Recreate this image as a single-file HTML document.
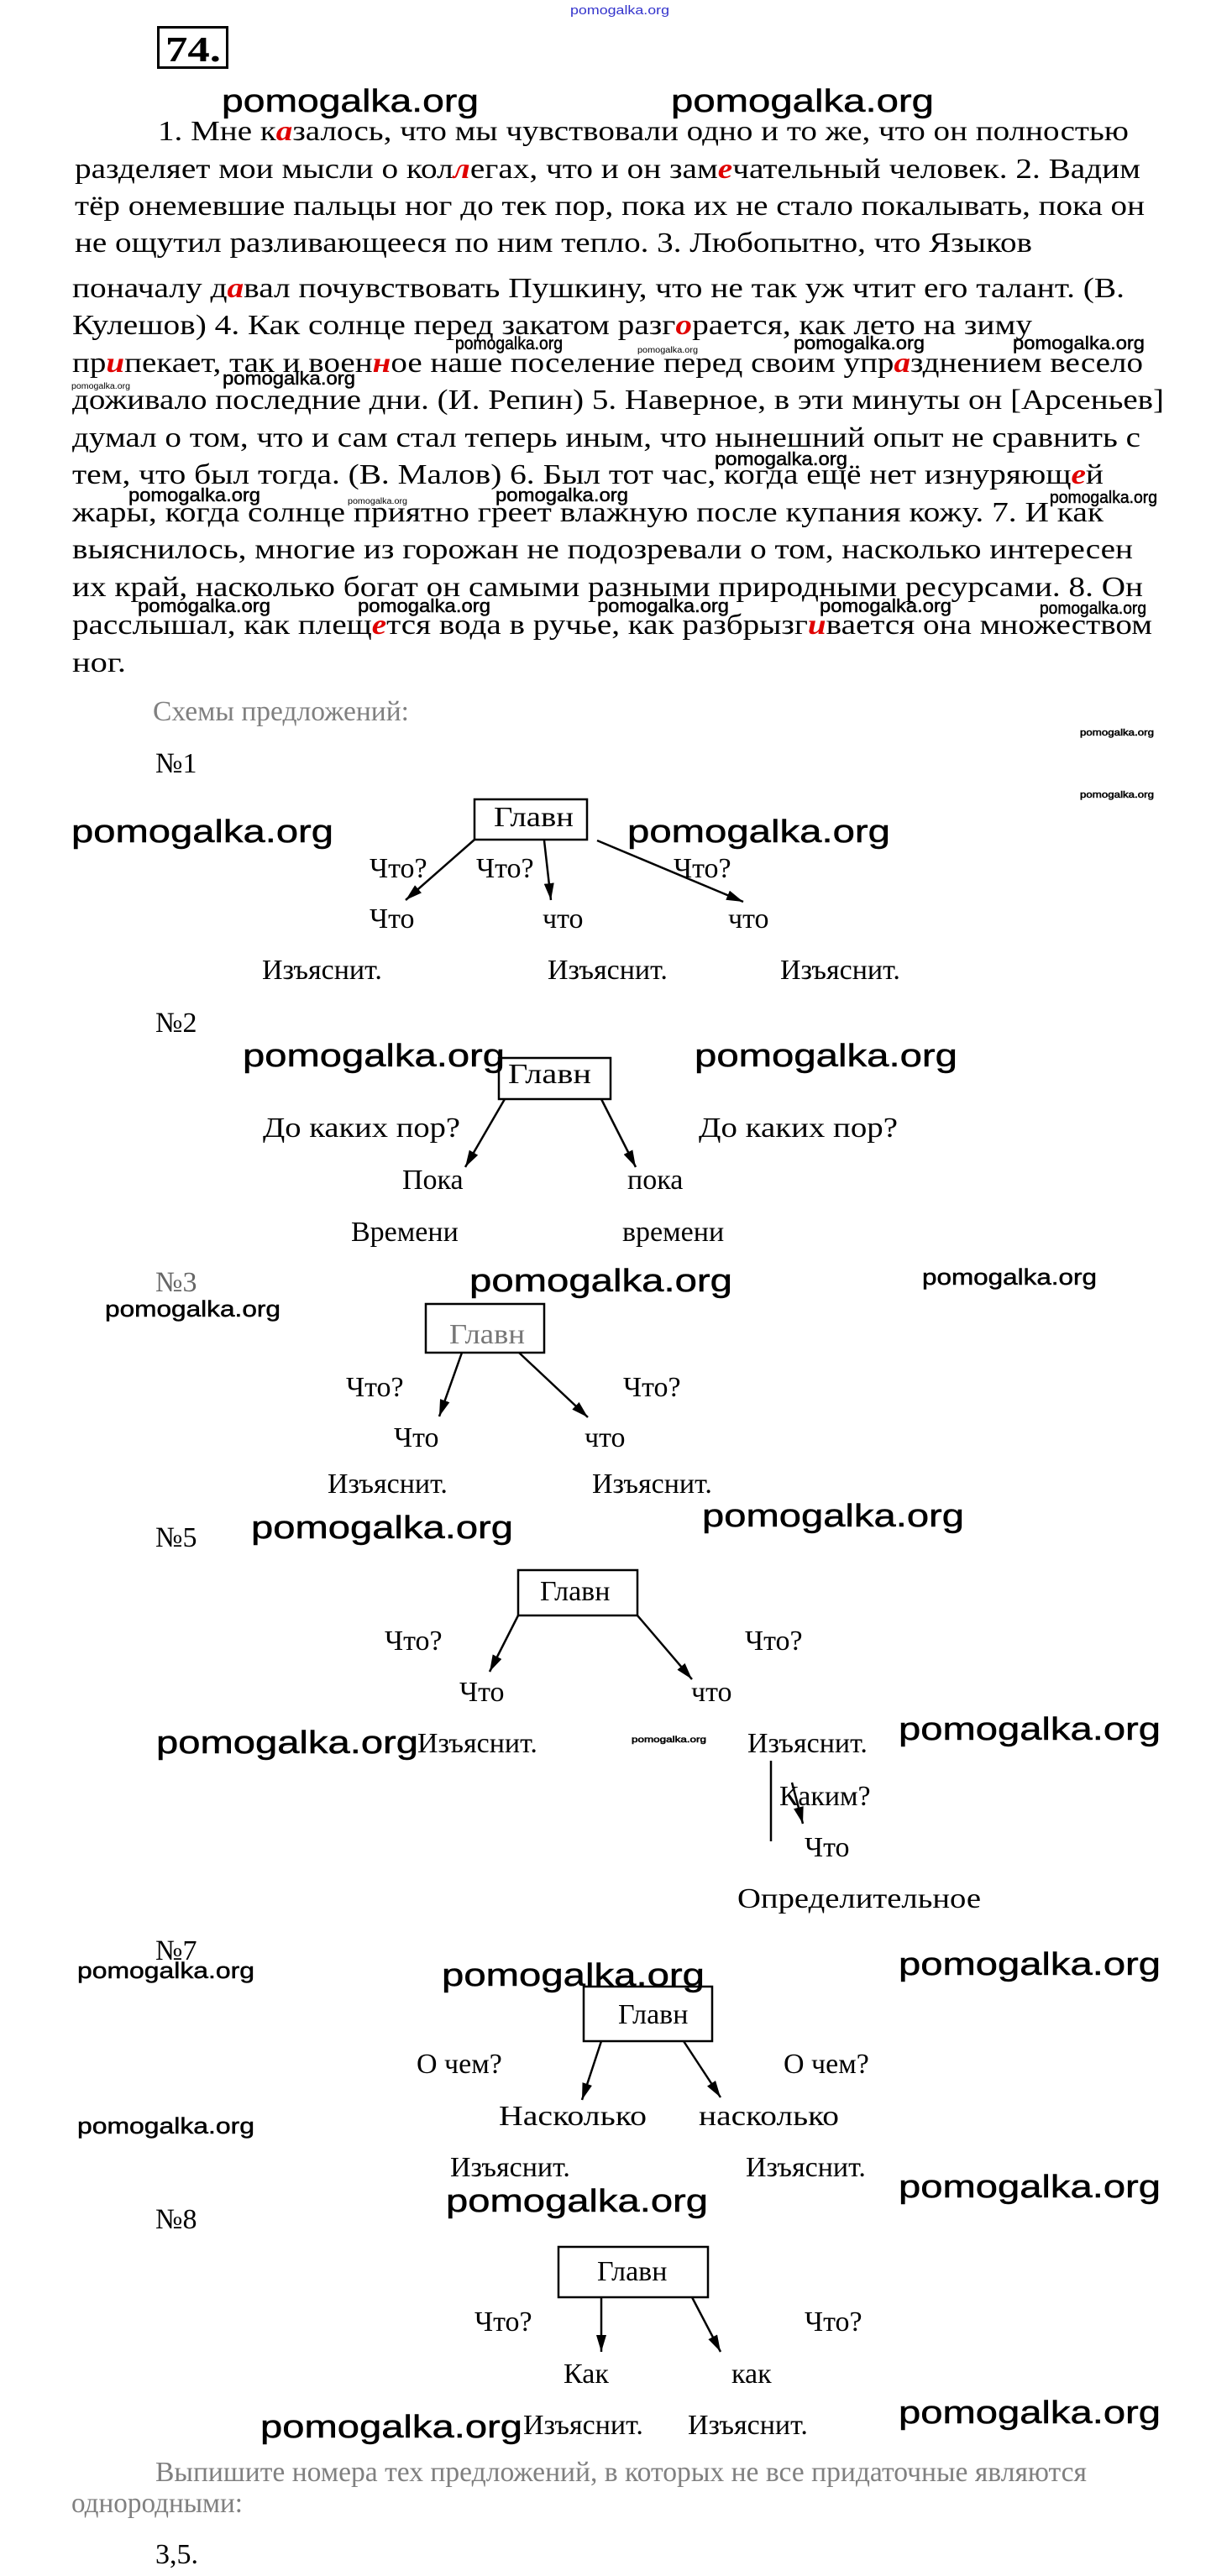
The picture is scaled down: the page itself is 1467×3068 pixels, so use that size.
<!DOCTYPE html>
<html><head><meta charset="utf-8"><style>
html,body{margin:0;padding:0;background:#fff}
svg{display:block}
.t{font-family:"Liberation Serif","Noto Serif CJK SC",serif;font-size:34px;fill:#000}
.g{fill:#808080}
.r{fill:#e00000;font-weight:bold;font-style:italic}
.w{font-family:"Liberation Sans",sans-serif;fill:#000;stroke:#000;stroke-width:0.5}
.d{font-family:"Liberation Serif","Noto Serif CJK SC",serif;font-size:34px;fill:#000}
</style></head><body>
<svg width="1467" height="3068" viewBox="0 0 1467 3068" xmlns="http://www.w3.org/2000/svg">
<defs><marker id="a" markerWidth="10" markerHeight="10" refX="9" refY="5" orient="auto" markerUnits="userSpaceOnUse"><path d="M0,0 L20,5 L0,10 z" transform="scale(0.5,1)"/></marker>
<marker id="b" viewBox="0 0 20 12" markerWidth="20" markerHeight="12" refX="20" refY="6" orient="auto" markerUnits="userSpaceOnUse"><path d="M0,0 L20,6 L0,12 z"/></marker></defs>

<text x="679" y="17" font-family="Liberation Sans,sans-serif" font-size="15" fill="#3333cc" textLength="118" lengthAdjust="spacingAndGlyphs">pomogalka.org</text>
<rect x="188.5" y="32.5" width="82" height="48" fill="none" stroke="#000" stroke-width="3"/>
<text x="197" y="73" font-family="Liberation Serif,serif" font-weight="bold" font-size="42" textLength="66" lengthAdjust="spacingAndGlyphs">74.</text>

<text class="w" x="264" y="133" font-size="38" textLength="306" lengthAdjust="spacingAndGlyphs">pomogalka.org</text>
<text class="w" x="799" y="133" font-size="38" textLength="313" lengthAdjust="spacingAndGlyphs">pomogalka.org</text>

<g class="t">
<text x="188" y="167" textLength="1156" lengthAdjust="spacingAndGlyphs">1. Мне к<tspan class="r">а</tspan>залось, что мы чувствовали одно и то же, что он полностью</text>
<text x="89" y="212" textLength="1269" lengthAdjust="spacingAndGlyphs">разделяет мои мысли о кол<tspan class="r">л</tspan>егах, что и он зам<tspan class="r">е</tspan>чательный человек. 2. Вадим</text>
<text x="89" y="256" textLength="1274" lengthAdjust="spacingAndGlyphs">тёр онемевшие пальцы ног до тек пор, пока их не стало покалывать, пока он</text>
<text x="89" y="300" textLength="1140" lengthAdjust="spacingAndGlyphs">не ощутил разливающееся по ним тепло. 3. Любопытно, что Языков</text>
<text x="86" y="354" textLength="1253" lengthAdjust="spacingAndGlyphs">поначалу д<tspan class="r">а</tspan>вал почувствовать Пушкину, что не так уж чтит его талант. (В.</text>
<text x="86" y="398" textLength="1143" lengthAdjust="spacingAndGlyphs">Кулешов) 4. Как солнце перед закатом разг<tspan class="r">о</tspan>рается, как лето на зиму</text>
<text x="86" y="443" textLength="1275" lengthAdjust="spacingAndGlyphs">пр<tspan class="r">и</tspan>пекает, так и воен<tspan class="r">н</tspan>ое наше поселение перед своим упр<tspan class="r">а</tspan>зднением весело</text>
<text x="86" y="487" textLength="1300" lengthAdjust="spacingAndGlyphs">доживало последние дни. (И. Репин) 5. Наверное, в эти минуты он [Арсеньев]</text>
<text x="86" y="532" textLength="1272" lengthAdjust="spacingAndGlyphs">думал о том, что и сам стал теперь иным, что нынешний опыт не сравнить с</text>
<text x="86" y="576" textLength="1228" lengthAdjust="spacingAndGlyphs">тем, что был тогда. (В. Малов) 6. Был тот час, когда ещё нет изнуряющ<tspan class="r">е</tspan>й</text>
<text x="86" y="621" textLength="1228" lengthAdjust="spacingAndGlyphs">жары, когда солнце приятно греет влажную после купания кожу. 7. И как</text>
<text x="86" y="665" textLength="1263" lengthAdjust="spacingAndGlyphs">выяснилось, многие из горожан не подозревали о том, насколько интересен</text>
<text x="86" y="710" textLength="1275" lengthAdjust="spacingAndGlyphs">их край, насколько богат он самыми разными природными ресурсами. 8. Он</text>
<text x="86" y="755" textLength="1286" lengthAdjust="spacingAndGlyphs">расслышал, как плещ<tspan class="r">е</tspan>тся вода в ручье, как разбрызг<tspan class="r">и</tspan>вается она множеством</text>
<text x="86" y="800" textLength="64" lengthAdjust="spacingAndGlyphs">ног.</text>
</g>

<g class="w">
<text x="542" y="416" font-size="21" textLength="128" lengthAdjust="spacingAndGlyphs">pomogalka.org</text>
<text x="759" y="420" font-size="10" stroke-width="0" textLength="72" lengthAdjust="spacingAndGlyphs">pomogalka.org</text>
<text x="945" y="416" font-size="22" textLength="156" lengthAdjust="spacingAndGlyphs">pomogalka.org</text>
<text x="1206" y="416" font-size="22" textLength="157" lengthAdjust="spacingAndGlyphs">pomogalka.org</text>
<text x="85" y="463" font-size="10" stroke-width="0" textLength="70" lengthAdjust="spacingAndGlyphs">pomogalka.org</text>
<text x="265" y="458" font-size="22" textLength="158" lengthAdjust="spacingAndGlyphs">pomogalka.org</text>
<text x="851" y="554" font-size="22" textLength="158" lengthAdjust="spacingAndGlyphs">pomogalka.org</text>
<text x="153" y="597" font-size="22" textLength="157" lengthAdjust="spacingAndGlyphs">pomogalka.org</text>
<text x="414" y="600" font-size="10" stroke-width="0" textLength="71" lengthAdjust="spacingAndGlyphs">pomogalka.org</text>
<text x="590" y="597" font-size="22" textLength="158" lengthAdjust="spacingAndGlyphs">pomogalka.org</text>
<text x="1250" y="599" font-size="20" textLength="128" lengthAdjust="spacingAndGlyphs">pomogalka.org</text>
<text x="164" y="729" font-size="22" textLength="158" lengthAdjust="spacingAndGlyphs">pomogalka.org</text>
<text x="426" y="729" font-size="22" textLength="158" lengthAdjust="spacingAndGlyphs">pomogalka.org</text>
<text x="711" y="729" font-size="22" textLength="157" lengthAdjust="spacingAndGlyphs">pomogalka.org</text>
<text x="976" y="729" font-size="22" textLength="157" lengthAdjust="spacingAndGlyphs">pomogalka.org</text>
<text x="1238" y="731" font-size="20" textLength="127" lengthAdjust="spacingAndGlyphs">pomogalka.org</text>
</g>

<text class="t g" x="182" y="858" textLength="305" lengthAdjust="spacingAndGlyphs">Схемы предложений:</text>
<g class="w" stroke-width="0">
<text x="1286" y="876" font-size="11" textLength="88" lengthAdjust="spacingAndGlyphs">pomogalka.org</text>
<text x="1286" y="950" font-size="11" textLength="88" lengthAdjust="spacingAndGlyphs">pomogalka.org</text>
</g>

<!-- №1 -->
<g class="d">
<text x="185" y="920">№1</text>
<text x="588" y="984" textLength="95" lengthAdjust="spacingAndGlyphs">Главн</text>
<text x="440" y="1045">Что?</text>
<text x="567" y="1045">Что?</text>
<text x="802" y="1045">Что?</text>
<text x="440" y="1105">Что</text>
<text x="646" y="1105">что</text>
<text x="867" y="1105">что</text>
<text x="312" y="1166">Изъяснит.</text>
<text x="652" y="1166">Изъяснит.</text>
<text x="929" y="1166">Изъяснит.</text>
</g>
<rect x="565" y="952" width="134" height="48" fill="none" stroke="#000" stroke-width="2.5"/>
<g stroke="#000" stroke-width="2.5" fill="none" marker-end="url(#b)">
<line x1="565" y1="1000" x2="483" y2="1072"/>
<line x1="648" y1="1001" x2="656" y2="1072"/>
<line x1="711" y1="1001" x2="885" y2="1074"/>
</g>
<text class="w" x="85" y="1003" font-size="38" textLength="312" lengthAdjust="spacingAndGlyphs">pomogalka.org</text>
<text class="w" x="747" y="1003" font-size="38" textLength="313" lengthAdjust="spacingAndGlyphs">pomogalka.org</text>

<!-- №2 -->
<g class="d">
<text x="185" y="1229">№2</text>
<text x="605" y="1290" textLength="99" lengthAdjust="spacingAndGlyphs">Главн</text>
<text x="313" y="1354" textLength="235" lengthAdjust="spacingAndGlyphs">До каких пор?</text>
<text x="832" y="1354" textLength="237" lengthAdjust="spacingAndGlyphs">До каких пор?</text>
<text x="479" y="1416">Пока</text>
<text x="747" y="1416">пока</text>
<text x="418" y="1478">Времени</text>
<text x="741" y="1478">времени</text>
</g>
<rect x="594" y="1260" width="133" height="49" fill="none" stroke="#000" stroke-width="2.5"/>
<g stroke="#000" stroke-width="2.5" fill="none" marker-end="url(#b)">
<line x1="601" y1="1309" x2="554" y2="1390"/>
<line x1="716" y1="1309" x2="757" y2="1390"/>
</g>
<text class="w" x="289" y="1270" font-size="38" textLength="312" lengthAdjust="spacingAndGlyphs">pomogalka.org</text>
<text class="w" x="827" y="1270" font-size="38" textLength="313" lengthAdjust="spacingAndGlyphs">pomogalka.org</text>

<!-- №3 -->
<g class="d">
<text x="185" y="1538" fill="#666">№3</text>
<text x="535" y="1600" fill="#777" textLength="90" lengthAdjust="spacingAndGlyphs">Главн</text>
<text x="412" y="1663">Что?</text>
<text x="742" y="1663">Что?</text>
<text x="469" y="1723">Что</text>
<text x="696" y="1723">что</text>
<text x="390" y="1778">Изъяснит.</text>
<text x="705" y="1778">Изъяснит.</text>
</g>
<rect x="507" y="1553" width="141" height="58" fill="none" stroke="#000" stroke-width="2.5"/>
<g stroke="#000" stroke-width="2.5" fill="none" marker-end="url(#b)">
<line x1="550" y1="1611" x2="523" y2="1687"/>
<line x1="618" y1="1611" x2="700" y2="1688"/>
</g>
<text class="w" x="559" y="1538" font-size="38" textLength="313" lengthAdjust="spacingAndGlyphs">pomogalka.org</text>
<text class="w" x="1098" y="1530" font-size="27" textLength="208" lengthAdjust="spacingAndGlyphs">pomogalka.org</text>
<text class="w" x="125" y="1568" font-size="27" textLength="209" lengthAdjust="spacingAndGlyphs">pomogalka.org</text>

<!-- №5 -->
<g class="d">
<text x="185" y="1842">№5</text>
<text x="643" y="1906">Главн</text>
<text x="458" y="1965">Что?</text>
<text x="887" y="1965">Что?</text>
<text x="547" y="2026">Что</text>
<text x="823" y="2026">что</text>
<text x="497" y="2087">Изъяснит.</text>
<text x="890" y="2087">Изъяснит.</text>
<text x="928" y="2150">Каким?</text>
<text x="958" y="2211">Что</text>
<text x="878" y="2272" textLength="290" lengthAdjust="spacingAndGlyphs">Определительное</text>
</g>
<rect x="617" y="1870" width="142" height="54" fill="none" stroke="#000" stroke-width="2.5"/>
<g stroke="#000" stroke-width="2.5" fill="none" marker-end="url(#b)">
<line x1="617" y1="1924" x2="583" y2="1991"/>
<line x1="759" y1="1924" x2="824" y2="2000"/>
<line x1="943" y1="2123" x2="956" y2="2172"/>
</g>
<line x1="918" y1="2097" x2="918" y2="2193" stroke="#000" stroke-width="2.5"/>
<text class="w" x="299" y="1832" font-size="38" textLength="312" lengthAdjust="spacingAndGlyphs">pomogalka.org</text>
<text class="w" x="836" y="1818" font-size="38" textLength="312" lengthAdjust="spacingAndGlyphs">pomogalka.org</text>
<text class="w" x="186" y="2088" font-size="38" textLength="312" lengthAdjust="spacingAndGlyphs">pomogalka.org</text>
<text class="w" x="1070" y="2072" font-size="38" textLength="312" lengthAdjust="spacingAndGlyphs">pomogalka.org</text>
<text class="w" x="752" y="2075" font-size="10" stroke-width="0" textLength="89" lengthAdjust="spacingAndGlyphs">pomogalka.org</text>

<!-- №7 -->
<g class="d">
<text x="185" y="2334">№7</text>
<text x="736" y="2410">Главн</text>
<text x="496" y="2469">О чем?</text>
<text x="933" y="2469">О чем?</text>
<text x="594" y="2531" textLength="176" lengthAdjust="spacingAndGlyphs">Насколько</text>
<text x="832" y="2531" textLength="167" lengthAdjust="spacingAndGlyphs">насколько</text>
<text x="536" y="2592">Изъяснит.</text>
<text x="888" y="2592">Изъяснит.</text>
</g>
<rect x="695" y="2366" width="153" height="65" fill="none" stroke="#000" stroke-width="2.5"/>
<g stroke="#000" stroke-width="2.5" fill="none" marker-end="url(#b)">
<line x1="716" y1="2431" x2="693" y2="2501"/>
<line x1="814" y1="2431" x2="858" y2="2498"/>
</g>
<text class="w" x="92" y="2356" font-size="27" textLength="211" lengthAdjust="spacingAndGlyphs">pomogalka.org</text>
<text class="w" x="526" y="2365" font-size="38" textLength="313" lengthAdjust="spacingAndGlyphs">pomogalka.org</text>
<text class="w" x="1070" y="2352" font-size="38" textLength="312" lengthAdjust="spacingAndGlyphs">pomogalka.org</text>
<text class="w" x="92" y="2541" font-size="27" textLength="211" lengthAdjust="spacingAndGlyphs">pomogalka.org</text>
<text class="w" x="531" y="2634" font-size="38" textLength="312" lengthAdjust="spacingAndGlyphs">pomogalka.org</text>
<text class="w" x="1070" y="2617" font-size="38" textLength="312" lengthAdjust="spacingAndGlyphs">pomogalka.org</text>

<!-- №8 -->
<g class="d">
<text x="185" y="2654">№8</text>
<text x="711" y="2716">Главн</text>
<text x="565" y="2776">Что?</text>
<text x="958" y="2776">Что?</text>
<text x="671" y="2838">Как</text>
<text x="871" y="2838">как</text>
<text x="623" y="2899">Изъяснит.</text>
<text x="819" y="2899">Изъяснит.</text>
</g>
<rect x="665" y="2676" width="178" height="60" fill="none" stroke="#000" stroke-width="2.5"/>
<g stroke="#000" stroke-width="2.5" fill="none" marker-end="url(#b)">
<line x1="716" y1="2736" x2="716" y2="2801"/>
<line x1="824" y1="2736" x2="858" y2="2801"/>
</g>
<text class="w" x="310" y="2903" font-size="38" textLength="312" lengthAdjust="spacingAndGlyphs">pomogalka.org</text>
<text class="w" x="1070" y="2886" font-size="38" textLength="312" lengthAdjust="spacingAndGlyphs">pomogalka.org</text>

<text class="t g" x="185" y="2955" textLength="1109" lengthAdjust="spacingAndGlyphs">Выпишите номера тех предложений, в которых не все придаточные являются</text>
<text class="t g" x="85" y="2992" textLength="204" lengthAdjust="spacingAndGlyphs">однородными:</text>
<text class="t" x="185" y="3053">3,5.</text>
</svg>
</body></html>
